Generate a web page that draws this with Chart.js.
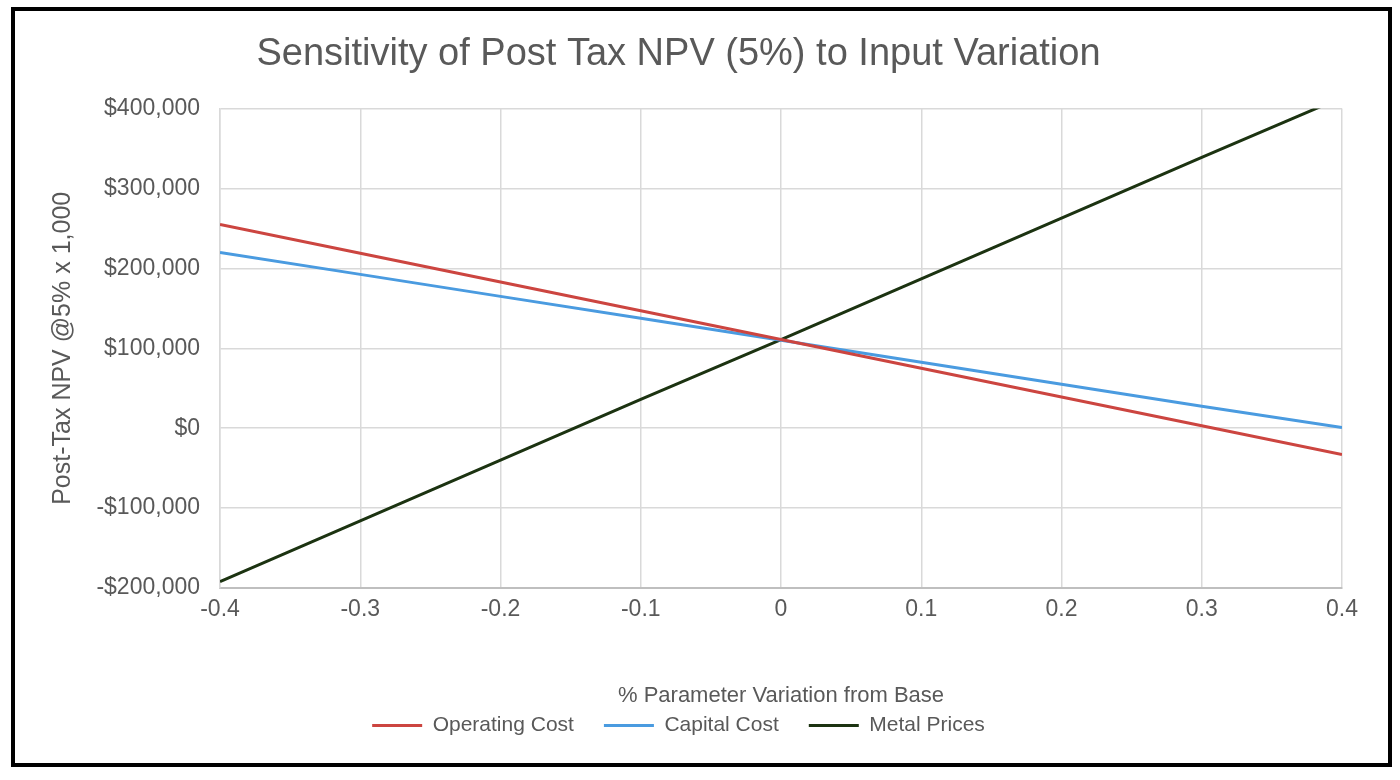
<!DOCTYPE html>
<html>
<head>
<meta charset="utf-8">
<title>Sensitivity of Post Tax NPV</title>
<script src="https://cdn.jsdelivr.net/npm/chart.js@4.4.1/dist/chart.umd.min.js"></script>
<style>
  html, body { margin: 0; padding: 0; background: #fff; }
  #frame {
    position: absolute;
    left: 11px;
    top: 7px;
    width: 1373px;
    height: 752px;
    border: 4px solid #000;
    background: #fff;
  }
</style>
</head>
<body>
<div id="frame">
  <canvas id="npvChart" width="1373" height="752"></canvas>
</div>
<script>
// % variation from base case
const variation = [-0.4, -0.3, -0.2, -0.1, 0, 0.1, 0.2, 0.3, 0.4];

// post-tax NPV @5% x 1,000 for each input
const operatingCost = [255000, 219000, 183000, 147000, 111000, 75000, 39000, 3000, -33000];
const capitalCost = [220000, 192500, 165000, 137500, 110000, 82500, 55000, 27500, 1000];
const metalPrices = [-192000, -116000, -40000, 36000, 111000, 187000, 263000, 339000, 414000];

const yTicks = [-200000, -100000, 0, 100000, 200000, 300000, 400000];

const FONT = '"Liberation Sans", Arial, sans-serif';
const GREY = '#595959';

const toPoints = (vals) => variation.map((x, i) => ({ x: x, y: vals[i] }));

const money = (v) => {
  const s = '$' + Math.abs(v).toLocaleString('en-US');
  return v < 0 ? '-' + s : s;
};

const ctx = document.getElementById('npvChart').getContext('2d');

new Chart(ctx, {
  type: 'line',
  data: {
    datasets: [
      {
        label: 'Operating Cost',
        data: toPoints(operatingCost),
        borderColor: '#CC4540',
        backgroundColor: '#CC4540',
        borderWidth: 3,
        pointRadius: 0,
      },
      {
        label: 'Capital Cost',
        data: toPoints(capitalCost),
        borderColor: '#4A9BE0',
        backgroundColor: '#4A9BE0',
        borderWidth: 3,
        pointRadius: 0,
      },
      {
        label: 'Metal Prices',
        data: toPoints(metalPrices),
        borderColor: '#1C3311',
        backgroundColor: '#1C3311',
        borderWidth: 3,
        pointRadius: 0,
      },
    ],
  },
  options: {
    responsive: false,
    animation: false,
    layout: { padding: { left: 0, right: 46, top: 0, bottom: 17 } },
    plugins: {
      title: {
        display: true,
        text: 'Sensitivity of Post Tax NPV (5%) to Input Variation',
        color: GREY,
        font: { family: FONT, size: 38, weight: 'normal' },
        padding: { top: 21, bottom: 31 },
      },
      legend: {
        position: 'bottom',
        labels: {
          color: GREY,
          font: { family: FONT, size: 21 },
          boxWidth: 50,
          boxHeight: 0,
          padding: 30,
        },
      },
      tooltip: { enabled: false },
    },
    scales: {
      x: {
        type: 'linear',
        min: -0.4,
        max: 0.4,
        ticks: {
          stepSize: 0.1,
          color: GREY,
          padding: 8,
          font: { family: FONT, size: 23 },
          callback: (v) => String(Math.round(v * 10) / 10),
        },
        grid: { color: '#d9d9d9', lineWidth: 1.5, drawTicks: false },
        border: { color: '#bfbfbf', width: 2 },
        title: {
          display: true,
          text: '% Parameter Variation from Base',
          color: GREY,
          font: { family: FONT, size: 22 },
          // legend sits high because of its wide item padding, pull title below scale edge
          padding: { top: 0, bottom: -24 },
        },
        afterFit: (scale) => { scale.height = 97; },
      },
      y: {
        min: -200000,
        max: 400000,
        afterBuildTicks: (scale) => { scale.ticks = yTicks.map((v) => ({ value: v })); },
        ticks: {
          color: GREY,
          padding: 20,
          font: { family: FONT, size: 23 },
          callback: (v) => money(v),
        },
        grid: { color: '#d9d9d9', lineWidth: 1.5, drawTicks: false },
        border: { color: '#d9d9d9', width: 1.5 },
        title: {
          display: true,
          text: 'Post-Tax NPV @5% x 1,000',
          color: GREY,
          font: { family: FONT, size: 25 },
          padding: { top: 33, bottom: 0 },
        },
        afterFit: (scale) => { scale.width = 205; },
      },
    },
  },
});
</script>
</body>
</html>
